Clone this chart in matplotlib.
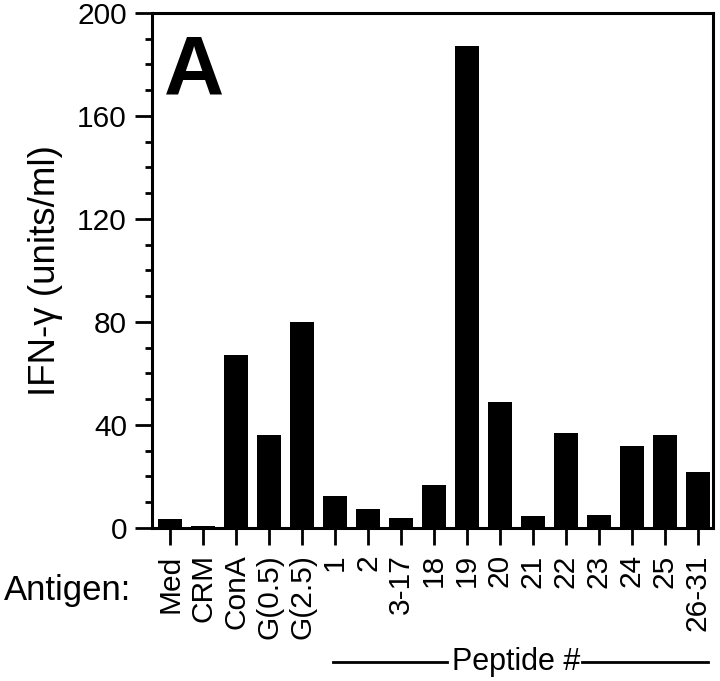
import numpy as np
import matplotlib
matplotlib.use("Agg")
import matplotlib.pyplot as plt
from matplotlib.ticker import MultipleLocator
import matplotlib.transforms as mtransforms

plt.rcParams['font.family'] = ['Liberation Sans', 'DejaVu Sans']

# data
antigens = ['Med', 'CRM', 'ConA', 'G(0.5)', 'G(2.5)', '1', '2', '3-17', '18',
            '19', '20', '21', '22', '23', '24', '25', '26-31']
ifn = [3.4, 0.9, 67, 36, 80, 12.5, 7.5, 3.7, 16.7,
       187, 49, 4.8, 37, 5.2, 32, 36, 21.7]
peptide_first = '1'
peptide_last = '26-31'

fig = plt.figure(figsize=(7.2, 6.81), dpi=100)
ax = fig.add_axes([0.211, 0.2247, 0.779, 0.7563])

x = np.arange(len(antigens))
ax.bar(x, ifn, width=0.74, color='black', zorder=3)

ax.set_xlim(-0.55, len(antigens) - 0.55)
ax.set_ylim(0, 200)
ax.yaxis.set_major_locator(MultipleLocator(40))
ax.yaxis.set_minor_locator(MultipleLocator(10))
ax.set_xticks(x)
ax.set_xticklabels(antigens, rotation=90, fontsize=21.5)
for lab in ax.get_yticklabels():
    lab.set_fontsize(21.5)

for s in ax.spines.values():
    s.set_linewidth(2.2)
ax.tick_params(axis='y', which='major', direction='out', length=12, width=2, pad=6)
ax.tick_params(axis='y', which='minor', direction='out', length=5, width=2)
ax.tick_params(axis='x', direction='out', length=12, width=2, pad=7)

ax.set_ylabel('IFN-γ (units/ml)', fontsize=26.5, labelpad=10)

ax.text(0.022, 0.96, 'A', transform=ax.transAxes, fontsize=60,
        fontweight='bold', ha='left', va='top')

fig.text(0.006, 0.133, 'Antigen:', fontsize=25, ha='left', va='center')

# "Peptide #" bracket under the peptide bars
i0 = antigens.index(peptide_first)
i1 = antigens.index(peptide_last)
trans = mtransforms.blended_transform_factory(ax.transData, fig.transFigure)
yb = 1 - 662 / 681
mid = (i0 + i1) / 2
ax.text(mid, yb, 'Peptide #', transform=trans, fontsize=22,
        ha='center', va='center', clip_on=False)
ax.plot([i0 - 0.05, mid - 2.1], [yb, yb], transform=trans, color='black',
        lw=2, clip_on=False)
ax.plot([mid + 2.0, i1 + 0.3], [yb, yb], transform=trans, color='black',
        lw=2, clip_on=False)

fig.savefig('out.png', dpi=100)
